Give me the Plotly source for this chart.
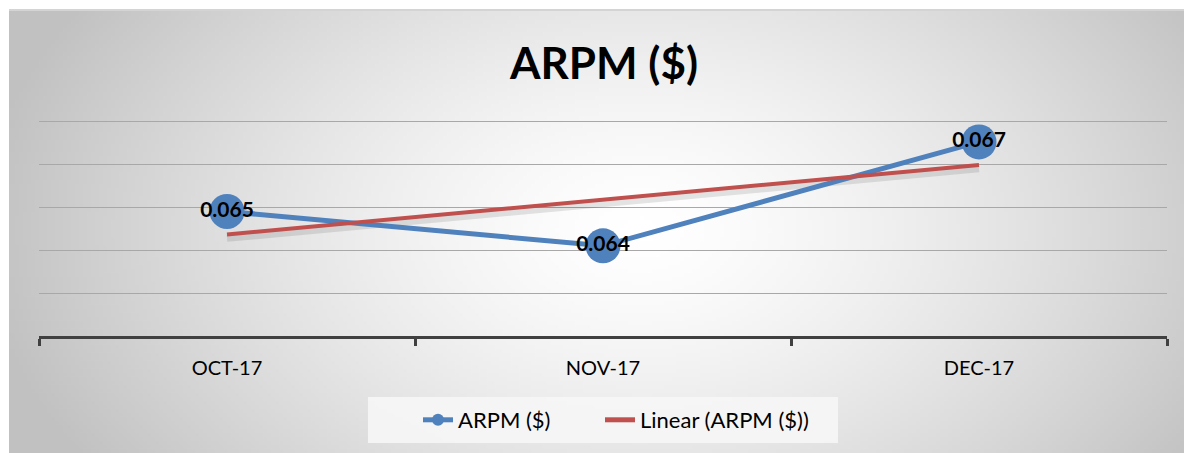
import base64, struct, zlib
import numpy as np
import plotly.graph_objects as go

# ---- data ----
categories = ["OCT-17", "NOV-17", "DEC-17"]
arpm_values = [0.0649, 0.0641, 0.06652]
arpm_labels = ["0.065", "0.064", "0.067"]
series_name = "ARPM ($)"
trend_name = "Linear (ARPM ($))"
chart_title = "ARPM ($)"

W, H = 1184, 453
FONT = "Lato"

# ---- radial gradient background (generated PNG) ----
def make_png(w, h, pix):
    raw = b"".join(b"\x00" + bytes(r) for r in pix)
    def chunk(t, d):
        c = t + d
        return struct.pack(">I", len(d)) + c + struct.pack(">I", zlib.crc32(c) & 0xffffffff)
    return (b"\x89PNG\r\n\x1a\n" + chunk(b"IHDR", struct.pack(">IIBBBBB", w, h, 8, 0, 0, 0, 0))
            + chunk(b"IDAT", zlib.compress(raw, 9)) + chunk(b"IEND", b""))

fx0, fy0 = 9, 10
fw, fh = W - fx0 + 10, H - fy0 + 10
gw, gh = fw // 4, fh // 4
cx, cy, rx, ry = 640, 230, 660, 430
rows = []
for j in range(gh):
    py = fy0 + (j + 0.5) * fh / gh
    row = []
    for i in range(gw):
        px = fx0 + (i + 0.5) * fw / gw
        d = ((px - cx) / rx) ** 2 + ((py - cy) / ry) ** 2
        d = min(d ** 0.5, 1.0)
        row.append(int(round(255 - 62 * d ** 1.4)))
    rows.append(row)
bg_uri = "data:image/png;base64," + base64.b64encode(make_png(gw, gh, rows)).decode()

# ---- trend ----
xi = np.arange(len(arpm_values))
slope, intercept = np.polyfit(xi, arpm_values, 1)
trend = slope * xi + intercept

fig = go.Figure()
# trend shadow
fig.add_trace(go.Scatter(x=categories, y=trend - 0.00009, mode="lines",
                         line=dict(color="rgba(0,0,0,0.10)", width=7),
                         showlegend=False, hoverinfo="skip"))
fig.add_trace(go.Scatter(x=categories, y=arpm_values, mode="lines+markers+text",
                         name=series_name, legend="legend",
                         line=dict(color="#4f81bd", width=5),
                         marker=dict(color="#4f81bd", size=35),
                         text=arpm_labels, textposition="middle center",
                         textfont=dict(family=FONT, size=21, color="black", weight="bold"),
                         cliponaxis=False))
fig.add_trace(go.Scatter(x=categories, y=trend, mode="lines", name=trend_name,
                         legend="legend2",
                         line=dict(color="#c0504d", width=4)))

def px_x(p):
    return p / W
def px_y(p):
    return 1 - p / H

leg_common = dict(orientation="h", y=px_y(420), yanchor="middle", xanchor="left",
                  bgcolor="rgba(0,0,0,0)", itemsizing="constant",
                  font=dict(family=FONT, size=22, color="black"))

fig.update_layout(
    width=W, height=H,
    margin=dict(l=0, r=0, t=0, b=0),
    paper_bgcolor="white",
    plot_bgcolor="rgba(0,0,0,0)",
    font=dict(family=FONT, size=20, color="black"),
    images=[dict(source=bg_uri, xref="paper", yref="paper",
                 x=px_x(fx0), y=px_y(fy0), sizex=fw / W, sizey=fh / H,
                 xanchor="left", yanchor="top", sizing="stretch", layer="below")],
    shapes=[
        dict(type="line", xref="paper", yref="paper", x0=px_x(fx0), x1=1.01,
             y0=px_y(fy0), y1=px_y(fy0), line=dict(color="#d4d4d4", width=2), layer="below"),
        dict(type="rect", xref="paper", yref="paper", x0=px_x(368), x1=px_x(838),
             y0=px_y(443), y1=px_y(397), fillcolor="rgba(246,246,246,0.9)",
             line=dict(width=0), layer="below"),
    ],
    xaxis=dict(domain=[px_x(39), px_x(1167)], range=[-0.5, 2.5],
               showline=True, linecolor="#404040", linewidth=3,
               ticks="outside", tickson="boundaries", ticklen=7, tickwidth=3,
               tickcolor="#404040", showgrid=False, ticklabelstandoff=12,
               tickfont=dict(family=FONT, size=20, color="black"), fixedrange=True),
    yaxis=dict(domain=[px_y(336), px_y(117)], range=[0.062, 0.0671], dtick=0.001,
               showticklabels=False, showgrid=True, gridcolor="#a8a8a8", gridwidth=1,
               zeroline=False, showline=False, fixedrange=True),
    annotations=[dict(text=f"<b>{chart_title}</b>", xref="paper", yref="paper",
                      x=px_x(603), y=px_y(62), xanchor="center", yanchor="middle",
                      showarrow=False, font=dict(family=FONT, size=44, color="black"))],
    legend=dict(x=px_x(418), **leg_common),
    legend2=dict(x=px_x(600), **leg_common),
    showlegend=True,
)
fig.write_html("out.html", config={"displayModeBar": False},
               post_script="document.body.style.margin='0px';")
